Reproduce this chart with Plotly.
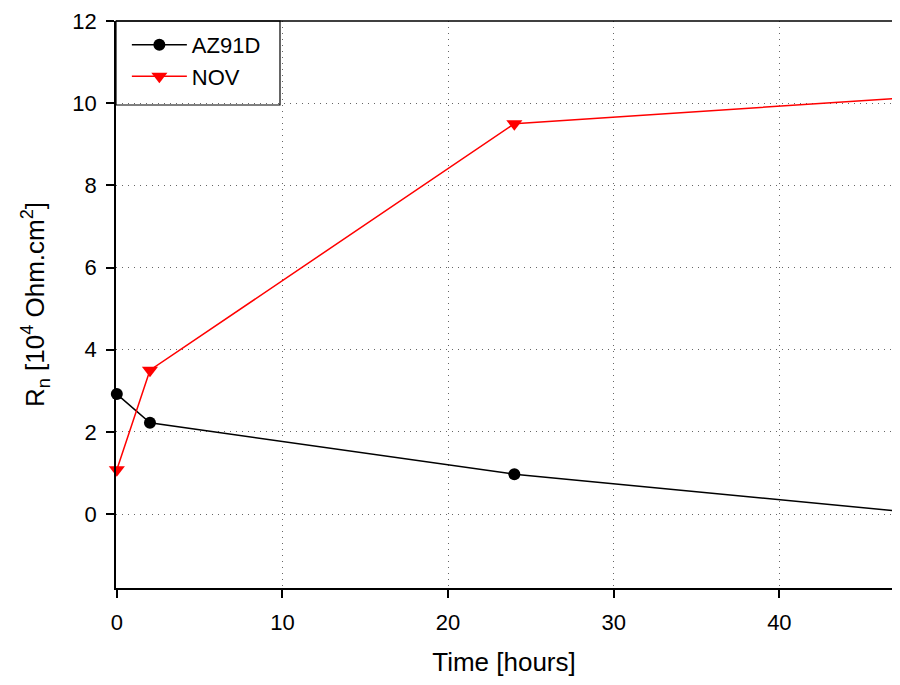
import plotly.graph_objects as go

time_az = [0, 2, 24, 48]
rn_az = [2.92, 2.22, 0.97, 0.04]
time_nov = [0, 2, 24, 48]
rn_nov = [1.08, 3.5, 9.5, 10.14]

fig = go.Figure()
fig.add_trace(go.Scatter(x=time_az, y=rn_az, mode="lines+markers", name="AZ91D",
                         line=dict(color="black", width=1.5),
                         marker=dict(symbol="circle", size=12, color="black"),
                         cliponaxis=False))
fig.add_trace(go.Scatter(x=time_nov, y=rn_nov, mode="lines+markers", name="NOV",
                         line=dict(color="red", width=1.5),
                         marker=dict(symbol="triangle-down", size=14, color="red"),
                         cliponaxis=False))

font = "Liberation Sans, Arial, sans-serif"
grid = dict(showgrid=True, gridcolor="#666", griddash="1px,5px", gridwidth=1,
            zeroline=False, showline=True, linecolor="black", linewidth=1.5,
            ticks="outside", ticklen=8, tickwidth=1.5, tickcolor="black",
            tickfont=dict(size=22), automargin=False, ticklabeloverflow="allow")

W, H = 884, 669
L, T, B = 108, 13, 89
pw = W - L
ph = H - T - B

fig.update_layout(
    width=W, height=H,
    margin=dict(l=L, r=0, t=T, b=B),
    paper_bgcolor="white", plot_bgcolor="white",
    font=dict(family=font, size=22, color="black"),
    showlegend=True,
    legend=dict(x=0.014, y=0.995, xanchor="left", yanchor="top",
                borderwidth=0, bgcolor="rgba(0,0,0,0)",
                font=dict(size=22), itemwidth=55, tracegroupgap=0),
    xaxis=dict(range=[-0.05, 46.8], tickvals=[0, 10, 20, 30, 40],
               ticklabelstandoff=6,
               title=dict(text="Time [hours]", font=dict(size=26), standoff=25),
               **grid),
    yaxis=dict(range=[-1.8, 12], tickvals=[0, 2, 4, 6, 8, 10, 12],
               ticklabelstandoff=5,
               title=dict(text="R<sub>n</sub> [10<sup>4</sup> Ohm.cm<sup>2</sup>]",
                          font=dict(size=26), standoff=20),
               **grid),
)
# top frame line
fig.add_shape(type="line", xref="paper", yref="paper", x0=0, x1=1, y0=1, y1=1,
              line=dict(color="black", width=1.5))
# legend frame
fig.add_shape(type="rect", xref="paper", yref="paper", x0=0, x1=164 / pw,
              y0=1 - 84 / ph, y1=1, line=dict(color="black", width=1.2),
              fillcolor="white", layer="below")

fig.write_html("out.html")
